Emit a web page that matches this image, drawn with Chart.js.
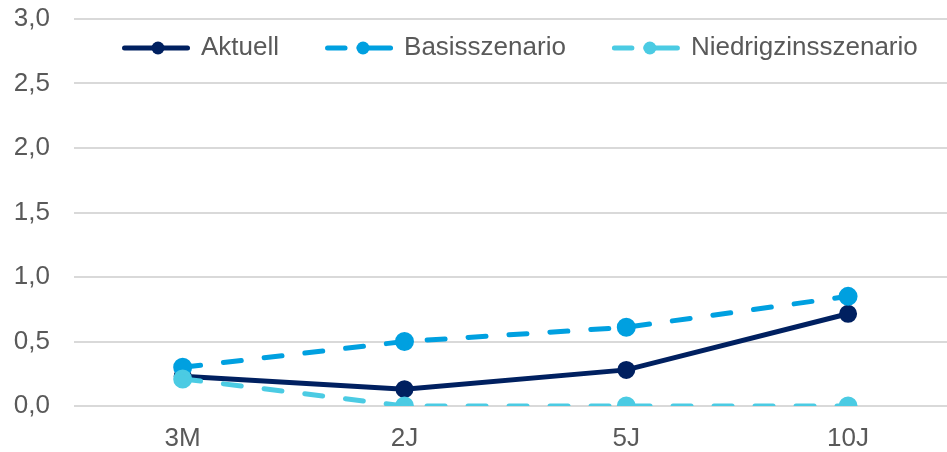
<!DOCTYPE html>
<html>
<head>
<meta charset="utf-8">
<script src="https://cdn.jsdelivr.net/npm/chart.js@4.4.1/dist/chart.umd.min.js"></script>
<style>
  html, body { margin: 0; padding: 0; background: #ffffff; overflow: hidden; }
  #wrap { width: 947px; height: 452px; position: relative; }
</style>
</head>
<body>
<div id="wrap"><canvas id="c"></canvas></div>
<script>
const categories = ["3M", "2J", "5J", "10J"];
const aktuell = [0.23, 0.13, 0.28, 0.715];
const basisszenario = [0.30, 0.50, 0.61, 0.85];
const niedrigzinsszenario = [0.21, 0.00, 0.00, 0.00];
const seriesNames = ["Aktuell", "Basisszenario", "Niedrigzinsszenario"];
const yTicks = [0, 0.5, 1.0, 1.5, 2.0, 2.5, 3.0];

const FONT = "'Liberation Sans', Arial, sans-serif";
const TEXT = "#595959";
const colors = ["#002060", "#00A0E0", "#4BCBE3"];

function pts(vals) { return categories.map((c, i) => ({ x: i, y: vals[i] })); }

const legendPlugin = {
  id: 'inlineLegend',
  afterDraw(chart) {
    const ctx = chart.ctx;
    const y = 48;
    let x = 122;
    ctx.save();
    ctx.font = "26px " + FONT;
    ctx.textBaseline = 'middle';
    ctx.textAlign = 'left';
    chart.data.datasets.slice().sort((a, b) => a.legendIndex - b.legendIndex).forEach(ds => {
      const w = 68;
      const dashed = ds.borderDash && ds.borderDash.length;
      ctx.strokeStyle = ds.borderColor;
      ctx.fillStyle = ds.borderColor;
      ctx.lineWidth = 5;
      ctx.lineCap = 'round';
      ctx.beginPath();
      if (dashed) {
        ctx.moveTo(x + 2.5, y); ctx.lineTo(x + 20, y);
        ctx.moveTo(x + 34, y); ctx.lineTo(x + w - 2.5, y);
      } else {
        ctx.moveTo(x + 2.5, y); ctx.lineTo(x + w - 2.5, y);
      }
      ctx.stroke();
      ctx.beginPath();
      ctx.arc(x + (dashed ? 38 : 36), y, 6.5, 0, Math.PI * 2);
      ctx.fill();
      x += w + 11;
      ctx.fillStyle = TEXT;
      ctx.fillText(ds.label, x, y);
      x += ctx.measureText(ds.label).width + 46;
    });
    ctx.restore();
  }
};

new Chart(document.getElementById('c'), {
  type: 'line',
  data: {
    datasets: [
      { label: seriesNames[0], data: pts(aktuell), borderColor: colors[0], backgroundColor: colors[0],
        borderWidth: 5, pointRadius: 6.5, pointHoverRadius: 6.5, order: 3, legendIndex: 0, borderCapStyle: 'round' },
      { label: seriesNames[1], data: pts(basisszenario), borderColor: colors[1], backgroundColor: colors[1],
        borderWidth: 5, borderDash: [18, 23], borderCapStyle: 'round', pointRadius: 7, pointHoverRadius: 7, order: 2, legendIndex: 1 },
      { label: seriesNames[2], data: pts(niedrigzinsszenario), borderColor: colors[2], backgroundColor: colors[2],
        borderWidth: 5, borderDash: [18, 23], borderCapStyle: 'round', pointRadius: 7, pointHoverRadius: 7, order: 1, legendIndex: 2 }
    ]
  },
  options: {
    responsive: true,
    maintainAspectRatio: false,
    animation: false,
    layout: { autoPadding: false, padding: { left: 13, right: 0, top: 19, bottom: 0 } },
    plugins: { legend: { display: false }, tooltip: { enabled: false } },
    elements: { line: { tension: 0 }, point: { borderWidth: 0 } },
    scales: {
      x: {
        type: 'linear',
        min: -0.49,
        max: 3.446,
        afterBuildTicks(scale) { scale.ticks = categories.map((c, i) => ({ value: i })); },
        afterFit(scale) { scale.height = 46; scale.paddingLeft = 0; scale.paddingRight = 0; },
        grid: { display: false, drawTicks: false },
        border: { display: false },
        ticks: {
          callback: (v) => categories[v],
          font: { family: FONT, size: 26, lineHeight: 1.0 },
          color: TEXT,
          padding: 20,
          maxRotation: 0,
          autoSkip: false
        }
      },
      y: {
        min: 0,
        max: 3,
        afterBuildTicks(scale) { scale.ticks = yTicks.map(v => ({ value: v })); },
        afterFit(scale) { scale.width = 61; scale.paddingTop = 0; scale.paddingBottom = 0; },
        grid: { color: '#D9D9D9', lineWidth: 2, drawTicks: false },
        border: { display: false },
        ticks: {
          callback: (v) => v.toFixed(1).replace('.', ','),
          font: { family: FONT, size: 26, lineHeight: 1.0 },
          color: TEXT,
          padding: 24
        }
      }
    }
  },
  plugins: [legendPlugin]
});
</script>
</body>
</html>
